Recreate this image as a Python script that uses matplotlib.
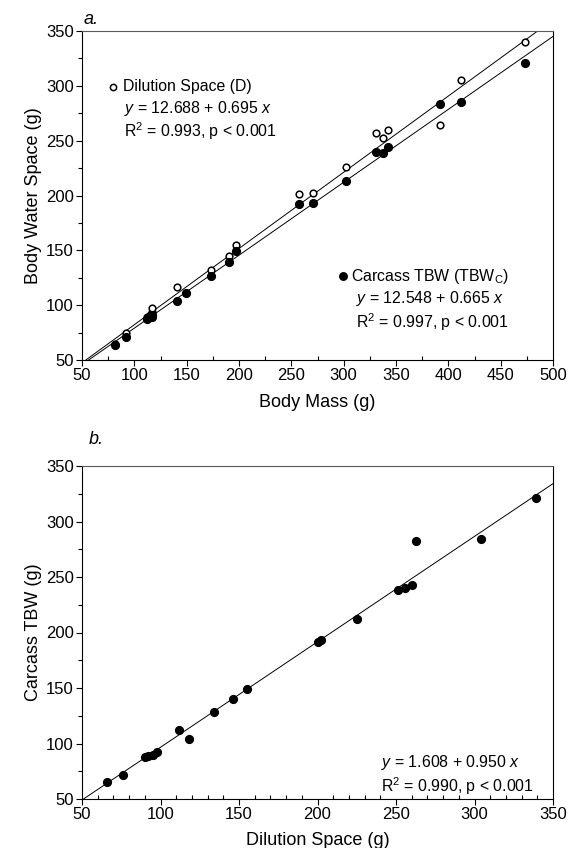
import matplotlib
matplotlib.use("Agg")
import matplotlib.pyplot as plt
import numpy as np
from matplotlib.ticker import MultipleLocator

plt.rcParams['font.family'] = ['Liberation Sans', 'DejaVu Sans']
plt.rcParams['mathtext.fontset'] = 'custom'
plt.rcParams['mathtext.rm'] = 'Liberation Sans'
plt.rcParams['mathtext.it'] = 'Liberation Sans:italic'

# ---- Panel a data ----
body_mass = [82, 92, 112, 115, 117, 117, 141, 149, 173, 190, 197, 257, 271, 302, 331, 338, 342, 392, 412, 473]
dilution_space = [65, 75, 89, 91, 94, 97, 117, 111, 132, 145, 155, 201, 202, 226, 257, 252, 260, 264, 305, 340]
carcass_tbw = [64, 71, 87, 89, 89, 91, 104, 111, 127, 139, 149, 192, 193, 213, 240, 239, 244, 283, 285, 321]

# ---- Panel b data ----
b_dilution = [66, 76, 90, 92, 95, 98, 112, 118, 134, 146, 155, 200, 202, 225, 251, 256, 260, 263, 304, 339]
b_tbw = [65, 72, 88, 89, 90, 92, 112, 104, 128, 140, 149, 191, 193, 212, 238, 240, 243, 282, 284, 321]

# regression coefficients (intercept, slope)
fit_D = (12.688, 0.695)
fit_C = (12.548, 0.665)
fit_b = (1.608, 0.950)

W, H = 568, 848
fig = plt.figure(figsize=(W / 100, H / 100), dpi=100)
FS = 11.4

def rect(l, t, r, b):
    return [l / W, 1 - b / H, (r - l) / W, (b - t) / H]

def tr(x, y):
    return (x / W, 1 - y / H)

def style(ax):
    for s in ax.spines.values():
        s.set_linewidth(0.8)
    ax.spines['top'].set_color('0.35')
    ax.tick_params(which='major', direction='out', length=4, width=0.8, labelsize=12, pad=2)
    ax.tick_params(which='minor', direction='out', length=3, width=0.8)
    ax.tick_params(axis='x', which='minor', direction='in', length=3)

def fig_marker(x, y, **kw):
    fig.lines.append(plt.Line2D([x / W], [1 - y / H], transform=fig.transFigure, marker='o', ls='', **kw))

# ---- Panel a ----
axa = fig.add_axes(rect(82, 31, 553, 360))
axa.set_xlim(50, 500)
axa.set_ylim(50, 350)
xs = np.array([50, 500])
axa.plot(xs, fit_D[0] + fit_D[1] * xs, color='black', lw=0.7)
axa.plot(xs, fit_C[0] + fit_C[1] * xs, color='black', lw=0.7)
axa.plot(body_mass, dilution_space, 'o', mfc='white', mec='black', mew=1.1, ms=4.8, zorder=3)
axa.plot(body_mass, carcass_tbw, 'o', mfc='black', mec='black', ms=5.6, zorder=4)
axa.xaxis.set_major_locator(MultipleLocator(50))
axa.xaxis.set_minor_locator(MultipleLocator(25))
axa.yaxis.set_major_locator(MultipleLocator(50))
axa.yaxis.set_minor_locator(MultipleLocator(25))
style(axa)
axa.set_xlabel('Body Mass (g)', fontsize=13, labelpad=8)
axa.set_ylabel('Body Water Space (g)', fontsize=13, labelpad=3)

fig.text(*tr(84, 20), 'a.', fontsize=13, style='italic', va='center')

fig_marker(113, 87, mfc='white', mec='black', mew=1.1, ms=4.5)
fig.text(*tr(123, 87), 'Dilution Space (D)', fontsize=FS, va='center')
fig.text(*tr(124, 109), r'$\mathit{y}$ = 12.688 + 0.695 $\mathit{x}$', fontsize=FS, va='center')
fig.text(*tr(124, 131), r'R$^2$ = 0.993, p < 0.001', fontsize=FS, va='center')

fig_marker(343, 276, mfc='black', mec='black', ms=5.4)
fig.text(*tr(351, 276), r'Carcass TBW (TBW$_\mathrm{C}$)', fontsize=FS, va='center')
fig.text(*tr(356, 299), r'$\mathit{y}$ = 12.548 + 0.665 $\mathit{x}$', fontsize=FS, va='center')
fig.text(*tr(356, 322), r'R$^2$ = 0.997, p < 0.001', fontsize=FS, va='center')

# ---- Panel b ----
axb = fig.add_axes(rect(82, 466, 553, 799))
axb.set_xlim(50, 350)
axb.set_ylim(50, 350)
xb = np.array([50, 350])
axb.plot(xb, fit_b[0] + fit_b[1] * xb, color='black', lw=0.7)
axb.plot(b_dilution, b_tbw, 'o', mfc='black', mec='black', ms=5.6, zorder=4)
axb.xaxis.set_major_locator(MultipleLocator(50))
axb.xaxis.set_minor_locator(MultipleLocator(10))
axb.yaxis.set_major_locator(MultipleLocator(50))
axb.yaxis.set_minor_locator(MultipleLocator(25))
style(axb)
axb.set_xlabel('Dilution Space (g)', fontsize=13, labelpad=7)
axb.set_ylabel('Carcass TBW (g)', fontsize=13, labelpad=3)
fig.text(*tr(89, 440), 'b.', fontsize=13, style='italic', va='center')

fig.text(*tr(381, 763), r'$\mathit{y}$ = 1.608 + 0.950 $\mathit{x}$', fontsize=FS, va='center')
fig.text(*tr(381, 786), r'R$^2$ = 0.990, p < 0.001', fontsize=FS, va='center')

fig.savefig('out.png', dpi=100)
